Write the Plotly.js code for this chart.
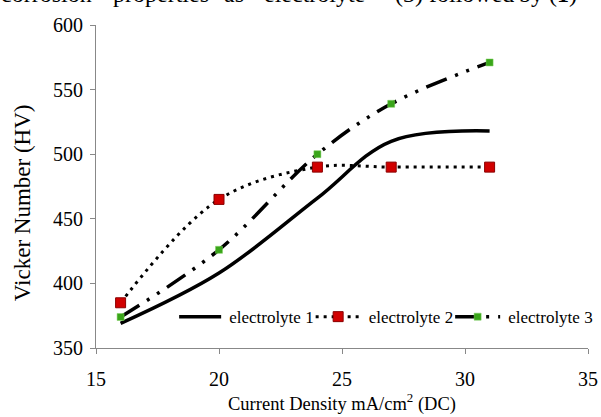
<!DOCTYPE html>
<html><head><meta charset="utf-8">
<script src="https://cdn.plot.ly/plotly-3.0.1.min.js"></script>
<style>html,body{margin:0;padding:0;background:#fff;}#chart{width:601px;height:417px;}</style>
</head><body><div id="chart"></div>
<script>
var currentDensity = [16, 20, 24, 27, 31];
var electrolyte1 = [369, 408, 466, 510, 518];
var electrolyte2 = [385, 465, 490, 490, 490];
var electrolyte3 = [374, 426, 500, 539, 571];
var seriesNames = ["electrolyte 1", "electrolyte 2", "electrolyte 3"];
var headerWords = ["corrosion", "properties", "as", "electrolyte", "(3)", "followed", "by", "(<b>1</b>)"];
var yTitle = "Vicker Number (HV)";
var xTitle = "Current Density mA/cm<sup>2</sup> (DC)";

var font = "Liberation Serif, Times New Roman, serif";
var traces = [
  {x: currentDensity, y: electrolyte1, name: seriesNames[0], mode: "lines",
   line: {color: "#000", width: 3.5, shape: "spline", smoothing: 1}},
  {x: currentDensity, y: electrolyte2, name: seriesNames[1], mode: "lines+markers",
   line: {color: "#000", width: 3, dash: "3px,5px", shape: "spline", smoothing: 1},
   marker: {symbol: "square", size: 10, color: "#d10000", line: {color: "#8a0000", width: 1}}},
  {x: currentDensity, y: electrolyte3, name: seriesNames[2], mode: "lines+markers",
   line: {color: "#000", width: 3.5, dash: "22px,9px,3px,9px,3px,9px", shape: "spline", smoothing: 1},
   marker: {symbol: "square", size: 7, color: "#3aa51a", line: {color: "#7fd060", width: 0.5}}}
];

// justified header line (partly cut at the top edge in the reference)
var wordLeftPx = [-1, 111, 222, 262, 393, 427, 517, 547];
var annotations = headerWords.map(function(w, i){
  return {text: w, xref: "paper", yref: "paper", x: (wordLeftPx[i] - 96) / 492, y: 1.048,
          xanchor: "left", yanchor: "bottom", showarrow: false,
          font: {family: font, size: 24, color: "#000"}};
});
annotations.push({text: yTitle, xref: "paper", yref: "paper", x: -0.148, y: 0.449, textangle: -90,
     xanchor: "center", yanchor: "middle", showarrow: false,
     font: {family: font, size: 23, color: "#000"}});

var layout = {
  width: 601, height: 417,
  margin: {l: 96, r: 13, t: 25, b: 69, autoexpand: false},
  paper_bgcolor: "#fff", plot_bgcolor: "#fff",
  font: {family: font, color: "#000", size: 20},
  showlegend: true,
  legend: {orientation: "h", x: 0.169, y: 0.04, xanchor: "left", yanchor: "bottom",
           font: {family: font, size: 17, color: "#000"}, bgcolor: "rgba(0,0,0,0)",
           itemwidth: 40, tracegroupgap: 0},
  xaxis: {range: [15, 35], tickvals: [15, 20, 25, 30, 35], ticks: "outside", ticklen: 5,
          tickcolor: "#888", showline: true, linecolor: "#888", linewidth: 1, showgrid: false,
          zeroline: false, tickfont: {size: 20}, ticklabelstandoff: 8,
          title: {text: xTitle, font: {size: 18.5}, standoff: 6}},
  yaxis: {range: [350, 600], tickvals: [350, 400, 450, 500, 550, 600], ticks: "outside", ticklen: 5,
          tickcolor: "#888", showline: true, linecolor: "#888", linewidth: 1, showgrid: false,
          zeroline: false, tickfont: {size: 20}, ticklabelstandoff: 3},
  annotations: annotations
};
Plotly.newPlot("chart", traces, layout, {displayModeBar: false, staticPlot: true}).then(function(gd){
  gd.querySelectorAll(".legend .traces").forEach(function(it){
    it.querySelectorAll(".legendlines path").forEach(function(p){ p.setAttribute("d", "M-3,0h45"); });
    it.querySelectorAll(".legendpoints path.scatterpts").forEach(function(p){
      p.setAttribute("transform", "translate(19.5,0)");
    });
  });
});
</script></body></html>
